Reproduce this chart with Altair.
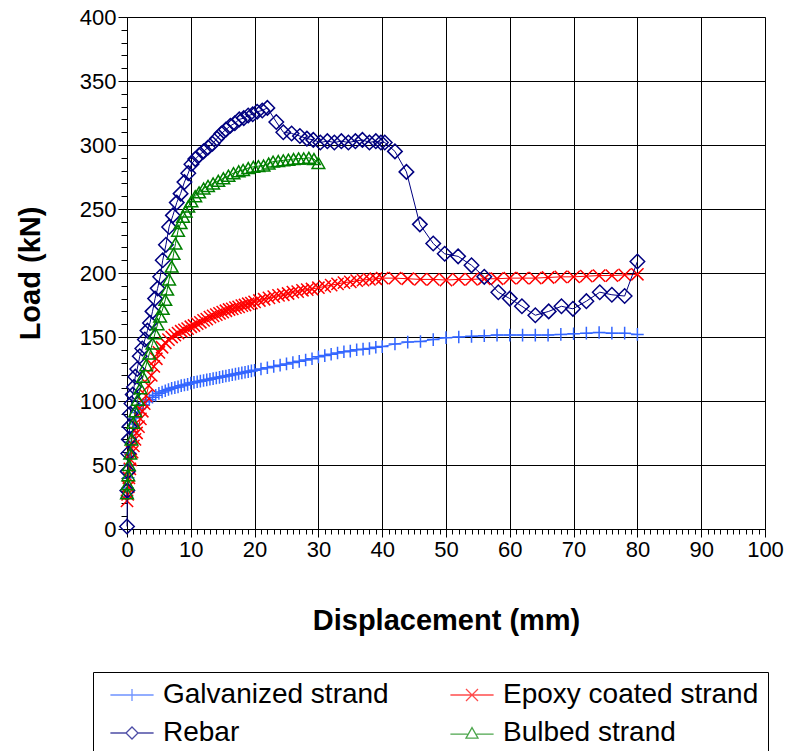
import altair as alt
import pandas as pd

series_names = ["Galvanized strand", "Epoxy coated strand", "Rebar", "Bulbed strand"]
series_colors = ["#3366FF", "#FF0000", "#000080", "#008000"]

galv_x = [0, 0.1, 0.2, 0.35, 0.5, 0.7, 0.9, 1.1, 1.4, 1.7, 2.0, 2.5, 3.0, 3.5, 4.0, 4.5, 5.0, 5.5, 6.0, 6.5,
          7.0, 7.5, 8.0, 8.5, 9.0, 9.5, 10, 10.5, 11, 11.5, 12, 12.5, 13, 13.5, 14, 14.5, 15, 15.5, 16, 16.5,
          17, 17.5, 18, 18.5, 19, 19.5, 20, 21, 22, 23, 24, 25, 26, 27, 28, 29, 30, 31, 32, 33,
          34, 35, 36, 37, 38, 39, 40, 42, 44, 46, 48, 50, 52, 54, 56, 58, 60, 62, 64, 66,
          68, 70, 72, 74, 76, 78, 80]
galv_y = [25, 32, 40, 50, 59, 68, 76, 82, 87, 91, 94, 97, 99.5, 101, 103, 104.5, 106, 107, 108, 109,
          110, 110.5, 111, 112, 112.5, 113, 114, 114.5, 115, 115.5, 116, 116.5, 117, 117.5, 118, 118.5, 119, 119.5, 120, 120.5,
          121, 121.5, 122, 122.5, 123, 123.5, 124, 125, 126, 127, 128, 129, 130, 131, 132, 133, 134.5, 135.5, 136.5, 137.5,
          138.5, 139, 140, 140.5, 141, 142, 142.5, 144.5, 146, 146.5, 148, 149.5, 150, 150.5, 151, 151.5, 151.5, 151.5, 151.5, 151.5,
          152, 152.5, 153, 153.5, 153, 153, 152]

epoxy_x = [0, 0.1, 0.2, 0.3, 0.45, 0.6, 0.8, 1.0, 1.25, 1.5, 1.8, 2.1, 2.4, 2.7, 3.0, 3.4, 3.8, 4.2, 4.6, 5.0,
           5.5, 6.0, 6.5, 7.0, 7.5, 8.0, 8.5, 9.0, 9.5, 10, 10.5, 11, 11.5, 12, 12.5, 13, 13.5, 14, 14.5, 15,
           15.5, 16, 16.5, 17, 17.5, 18, 18.5, 19, 19.5, 20, 20.75, 21.5, 22.25, 23, 23.75, 24.5, 25.25, 26, 26.75, 27.5,
           28.25, 29, 30, 31, 32, 33, 34, 35, 36, 37, 38, 39, 40, 42, 44, 46, 48, 50, 52, 54,
           56, 58, 60, 62, 64, 66, 68, 70, 72, 74, 76, 78, 80]
epoxy_y = [22, 27, 33, 40, 47, 54, 60, 65, 70, 75, 80, 86, 92, 98, 104, 112, 120, 127, 133, 138,
           142, 145.5, 148, 150, 151.5, 153, 154.5, 155.5, 156.5, 158, 159, 160.5, 161.5, 163, 164, 165.5, 166.5, 167.5, 168.5, 169.5,
           170.5, 171.5, 172, 173, 173.5, 174.5, 175, 176, 176.5, 177.5, 178.5, 179.5, 180.5, 181.5, 182.5, 183, 184, 185, 185.5, 186.5,
           187, 187.5, 188.5, 189.5, 190.5, 191.5, 192.5, 193, 194, 194.5, 195, 195.5, 196, 196, 195.5, 195, 195, 194.5, 195, 195,
           195.5, 195.5, 196, 196, 196, 196.5, 197, 197, 197.5, 198, 198, 198.5, 199]

rebar_x = [0, 0.05, 0.1, 0.2, 0.3, 0.4, 0.5, 0.7, 0.9, 1.1, 1.3, 1.6, 2.0, 2.4, 2.8, 3.2, 3.6, 4.0, 4.4, 4.8,
           5.2, 5.6, 6.1, 6.6, 7.2, 7.8, 8.4, 9.0, 9.6, 10.1, 10.7, 11.3, 12.0, 12.7, 13.4, 14.1, 14.8, 15.5, 16.2, 16.9,
           17.6, 18.3, 19.0, 19.7, 20.4, 21.2, 22.0, 23.4, 24.5, 25.8, 27.1, 28.2, 29.2, 30.3, 31.4, 32.5, 33.6, 34.7, 35.8, 36.9,
           38.0, 39.0, 39.8, 40.4, 42.0, 43.8, 45.9, 48.0, 49.8, 51.9, 54.0, 56.0, 58.2, 60.0, 61.9, 64.0, 66.1, 68.1, 69.9, 72.0,
           74.1, 76.0, 78.0, 80.0]
rebar_y = [2, 30, 45, 59, 70, 80, 90, 98, 105, 111, 119, 125, 135, 141, 148, 155, 161, 170, 180, 188,
           197, 210, 222, 236, 245, 255, 262, 271, 278, 285, 289, 292, 295, 298, 301, 305, 309, 312, 315, 317,
           320, 321, 323, 324, 326, 327, 329, 318, 310, 309, 307, 305, 304, 302, 303, 302, 303, 302, 303, 304,
           302, 303, 302, 302, 295, 279, 238, 223, 215, 213, 206, 197, 185, 180, 174, 167, 170, 174, 172, 178,
           185, 183, 182, 209]

bulbed_x = [0, 0.1, 0.2, 0.3, 0.5, 0.7, 1.0, 1.3, 1.7, 2.1, 2.5, 3.0, 3.5, 4.0, 4.4, 4.8, 5.2, 5.6, 6.0, 6.3,
            6.6, 7.0, 7.3, 7.6, 8.0, 8.4, 8.8, 9.2, 9.6, 10.1, 10.7, 11.3, 12.0, 12.7, 13.5, 14.3, 15.1, 15.9, 16.7, 17.5,
            18.2, 19.0, 19.8, 20.6, 21.4, 22.2, 22.9, 23.7, 24.5, 25.3, 26.1, 26.9, 27.7, 28.5, 29.3, 30.0]
bulbed_y = [28, 35, 42, 50, 59, 70, 83, 92, 101, 110, 119, 128, 137, 145, 153, 160, 166, 172, 179, 187,
            195, 205, 215, 223, 233, 239, 244, 248, 252, 256, 260, 263, 266, 268, 270, 272, 274, 276, 278, 279.5,
            280.5, 282, 283, 283.5, 284, 285.5, 287, 287.5, 288, 288.5, 289, 289.5, 289.5, 290, 289, 286]

marker_paths = ["M-1,0L1,0M0,-1L0,1", "M-1,-1L1,1M-1,1L1,-1", "diamond", "triangle-up"]
marker_sizes = [160, 150, 210, 160]
legend_paths = [
    "M-3.6,0L3.6,0M0,-1L0,1",
    "M-3.6,0L3.6,0M-1,-1L1,1M-1,1L1,-1",
    "M-3.6,0L-1,0M1,0L3.6,0M-1,0L0,-1L1,0L0,1Z",
    "M-3.6,0.2L-0.75,0.2M0.75,0.2L3.6,0.2M0,-0.9L1,0.85L-1,0.85Z",
]
# legend is laid out column by column: this order gives rows
# "Galvanized | Epoxy" and "Rebar | Bulbed"
legend_order = [0, 2, 1, 3]

FONT = "Liberation Sans"

all_x = [galv_x, epoxy_x, rebar_x, bulbed_x]
all_y = [galv_y, epoxy_y, rebar_y, bulbed_y]

frames = []
for name, xs, ys in zip(series_names, all_x, all_y):
    frames.append(pd.DataFrame({"series": name, "disp": xs, "load": ys, "order": range(len(xs))}))
df = pd.concat(frames, ignore_index=True)

x_major = "datum.value % 10 === 0"
y_major = "datum.value % 50 === 0"

x_enc = alt.X("disp:Q", scale=alt.Scale(domain=[0, 100], nice=False, zero=False),
              axis=alt.Axis(values=list(range(0, 101)),
                            labelExpr=f"{x_major} ? datum.label : ''",
                            tickSize={"condition": {"test": x_major, "value": 8}, "value": 5},
                            gridOpacity={"condition": {"test": x_major, "value": 1}, "value": 0},
                            grid=True, gridColor="#000000", gridWidth=1,
                            domainColor="#000000", tickColor="#000000",
                            labelFont=FONT, labelFontSize=22, labelColor="#000000",
                            labelPadding=2, labelOverlap=False, labelFlush=False,
                            title="Displacement (mm)", titleFont=FONT, titleFontSize=29,
                            titleFontWeight="bold", titleColor="#000000",
                            titleBaseline="middle", titleY=91))
y_enc = alt.Y("load:Q", scale=alt.Scale(domain=[0, 400], nice=False),
              axis=alt.Axis(values=list(range(0, 401, 10)),
                            labelExpr=f"{y_major} ? datum.label : ''",
                            tickSize={"condition": {"test": y_major, "value": 9}, "value": 6},
                            gridOpacity={"condition": {"test": y_major, "value": 1}, "value": 0},
                            grid=True, gridColor="#000000", gridWidth=1,
                            domainColor="#000000", tickColor="#000000",
                            labelFont=FONT, labelFontSize=22, labelColor="#000000",
                            labelPadding=2, labelOverlap=False, labelFlush=False,
                            title="Load (kN)", titleFont=FONT, titleFontSize=29,
                            titleFontWeight="bold", titleColor="#000000",
                            titleBaseline="middle", titleX=-97))

layers = []
for name, color, path, size in zip(series_names, series_colors, marker_paths, marker_sizes):
    base = alt.Chart(df).transform_filter(alt.datum.series == name)
    line = base.mark_line(color=color, strokeWidth=1).encode(x=x_enc, y=y_enc, order="order:Q")
    pts = base.mark_point(shape=path, size=size, filled=False, color=color, strokeWidth=1.5, opacity=1).encode(
        x=x_enc, y=y_enc)
    layers += [line, pts]

leg_domain = [series_names[i] for i in legend_order]
leg_colors = [series_colors[i] for i in legend_order]
leg_shapes = [legend_paths[i] for i in legend_order]

leg = alt.Legend(orient="none", legendX=-34, legendY=655, columns=2, title=None,
                 strokeColor="#000000", fillColor="#FFFFFF", padding=9,
                 labelFont=FONT, labelFontSize=28, labelColor="#000000", labelLimit=500,
                 symbolSize=144, symbolStrokeWidth=1.3, symbolOffset=16, labelOffset=17,
                 rowPadding=10, columnPadding=53)
legend_layer = alt.Chart(df).transform_filter("false").mark_point(filled=False).encode(
    x=x_enc, y=y_enc,
    color=alt.Color("series:N", scale=alt.Scale(domain=leg_domain, range=leg_colors), legend=leg),
    shape=alt.Shape("series:N", scale=alt.Scale(domain=leg_domain, range=leg_shapes), legend=leg),
)
layers.append(legend_layer)

chart = alt.layer(*layers).properties(
    width=638, height=512,
    autosize=alt.AutoSizeParams(type="none"),
    padding={"left": 127, "top": 17, "right": 26, "bottom": 222},
    background="white",
).configure_view(stroke="#808080", strokeWidth=1)

chart.save("out.html", embed_options={"renderer": "svg", "actions": False})
